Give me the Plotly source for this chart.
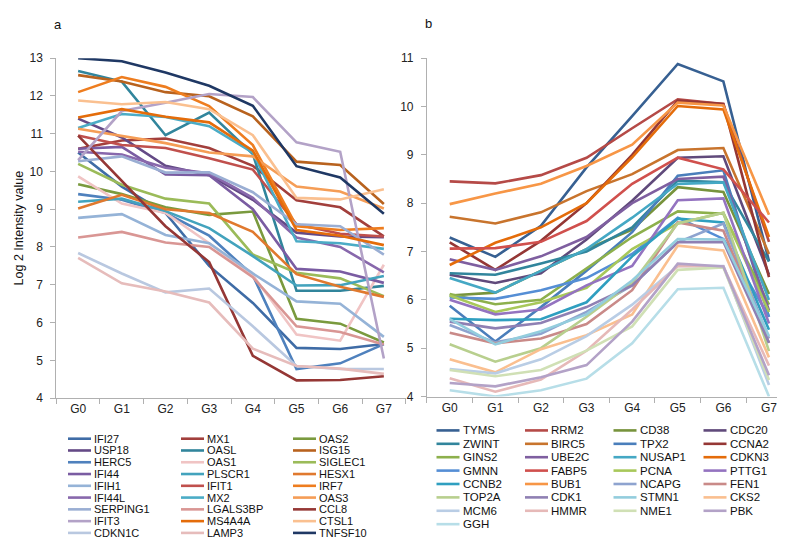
import plotly.graph_objects as go

W, H = 785, 539
groups = ["G0", "G1", "G2", "G3", "G4", "G5", "G6", "G7"]

# ---------------- Panel a data ----------------
a_names = ["IFI27", "MX1", "OAS2", "USP18", "OASL", "ISG15", "HERC5", "OAS1", "SIGLEC1",
           "IFI44", "PLSCR1", "HESX1", "IFIH1", "IFIT1", "IRF7", "IFI44L", "MX2", "OAS3",
           "SERPING1", "LGALS3BP", "CCL8", "IFIT3", "MS4A4A", "CTSL1", "CDKN1C", "LAMP3", "TNFSF10"]
a_colors = ["#3f6ca6", "#a23f3c", "#7a9a3e", "#644a86", "#31859c", "#b8621e", "#4f81bd", "#f0c4c4", "#9bbb59",
            "#7a5ca2", "#43a3bd", "#e0792e", "#95b3d7", "#c0504d", "#ee7d1f", "#8868ac", "#4bacc6", "#f59d56",
            "#9aaed3", "#d99694", "#953735", "#b3a2c7", "#e46c0a", "#fac090", "#b9c8e0", "#e6bcbb", "#1f3864"]
IFI27 = [10.50, 9.60, 8.90, 7.50, 6.52, 5.33, 5.30, 5.43]
MX1 = [10.60, 10.82, 10.87, 10.62, 10.15, 9.24, 9.05, 8.28]
OAS2 = [9.66, 9.40, 9.05, 8.85, 8.94, 6.10, 5.97, 5.47]
USP18 = [11.40, 10.90, 10.15, 9.90, 9.25, 8.38, 8.28, 8.26]
OASL = [12.66, 12.38, 10.96, 11.56, 10.46, 6.84, 6.84, 6.97]
ISG15 = [12.55, 12.38, 12.10, 11.99, 11.46, 10.26, 10.17, 9.14]
HERC5 = [9.40, 9.25, 8.90, 8.30, 7.25, 4.77, 4.92, 5.43]
OAS1 = [9.87, 9.15, 8.90, 8.10, 7.25, 5.68, 5.52, 7.53]
SIGLEC1 = [10.20, 9.65, 9.28, 9.15, 7.80, 7.32, 7.17, 6.70]
IFI44 = [10.60, 10.65, 9.92, 9.90, 9.00, 7.42, 7.35, 7.05]
PLSCR1 = [9.20, 9.28, 8.95, 8.50, 7.76, 6.98, 6.99, 7.23]
HESX1 = [9.02, 9.38, 9.00, 8.90, 8.40, 7.28, 6.95, 6.68]
IFIH1 = [8.77, 8.87, 8.32, 8.10, 7.30, 6.56, 6.50, 5.62]
IFIT1 = [10.95, 10.70, 10.62, 10.35, 10.05, 8.60, 8.35, 8.28]
IRF7 = [12.10, 12.50, 12.24, 11.73, 10.70, 8.55, 8.45, 8.50]
IFI44L = [10.52, 10.45, 10.10, 9.95, 9.30, 8.25, 8.00, 7.33]
MX2 = [11.15, 11.52, 11.44, 11.20, 10.50, 8.15, 8.10, 7.95]
OAS3 = [11.13, 10.95, 10.75, 10.50, 10.40, 9.60, 9.47, 9.02]
SERPING1 = [10.27, 10.40, 9.97, 9.98, 9.45, 8.60, 8.55, 7.80]
LGALS3BP = [8.25, 8.40, 8.12, 8.00, 7.20, 5.90, 5.75, 5.42]
CCL8 = [10.95, 9.75, 8.55, 7.60, 5.12, 4.47, 4.48, 4.58]
IFIT3 = [10.30, 11.60, 11.82, 12.05, 11.97, 10.77, 10.52, 5.05]
MS4A4A = [11.43, 11.65, 11.45, 11.30, 10.55, 8.45, 8.30, 8.05]
CTSL1 = [11.88, 11.78, 11.84, 11.65, 10.96, 9.30, 9.26, 9.53]
CDKN1C = [7.84, 7.30, 6.80, 6.90, 5.90, 4.85, 4.77, 4.77]
LAMP3 = [7.71, 7.04, 6.82, 6.53, 5.31, 4.85, 4.78, 4.64]
TNFSF10 = [13.00, 12.92, 12.62, 12.27, 11.74, 10.14, 9.84, 8.88]
a_values = [IFI27, MX1, OAS2, USP18, OASL, ISG15, HERC5, OAS1, SIGLEC1, IFI44, PLSCR1, HESX1,
            IFIH1, IFIT1, IRF7, IFI44L, MX2, OAS3, SERPING1, LGALS3BP, CCL8, IFIT3, MS4A4A,
            CTSL1, CDKN1C, LAMP3, TNFSF10]

# ---------------- Panel b data ----------------
b_names = ["TYMS", "RRM2", "CD38", "CDC20", "ZWINT", "BIRC5", "TPX2", "CCNA2", "GINS2", "UBE2C",
           "NUSAP1", "CDKN3", "GMNN", "FABP5", "PCNA", "PTTG1", "CCNB2", "BUB1", "NCAPG", "FEN1",
           "TOP2A", "CDK1", "STMN1", "CKS2", "MCM6", "HMMR", "NME1", "PBK", "GGH"]
b_colors = ["#376092", "#b54a47", "#77933c", "#604a7b", "#31859c", "#c8742d", "#4a7ebb", "#953735", "#8db04c", "#7f5fa0",
            "#45a8c4", "#e46c0a", "#558ed5", "#d0504d", "#a8c85a", "#9473c0", "#2f9fc0", "#f79646", "#8ea3cf", "#c98a88",
            "#b8cf8e", "#8f80b3", "#93cddd", "#fabf8f", "#b9cde5", "#e6b9b8", "#d0e0b5", "#b3a2c7", "#b7dee8"]
TYMS = [7.29, 6.89, 7.53, 8.74, 9.80, 10.88, 10.52, 6.80]
RRM2 = [8.45, 8.41, 8.58, 8.94, 9.55, 10.15, 10.05, 7.20]
CD38 = [6.09, 6.15, 6.60, 7.05, 7.45, 8.33, 8.23, 6.12]
CDC20 = [6.52, 6.35, 6.55, 7.25, 8.05, 8.94, 8.97, 6.52]
ZWINT = [6.55, 6.52, 6.75, 7.00, 7.50, 8.47, 8.43, 6.79]
BIRC5 = [7.72, 7.58, 7.81, 8.25, 8.60, 9.10, 9.14, 6.95]
TPX2 = [5.88, 5.14, 5.85, 6.60, 7.40, 8.57, 8.68, 5.65]
CCNA2 = [7.19, 6.62, 7.22, 8.00, 9.00, 10.12, 10.05, 6.47]
GINS2 = [6.12, 5.91, 6.00, 6.65, 7.30, 7.83, 7.78, 5.90]
UBE2C = [6.84, 6.62, 6.90, 7.30, 8.00, 8.50, 8.55, 5.78]
NUSAP1 = [6.45, 6.15, 6.60, 7.05, 7.70, 8.40, 8.43, 6.00]
CDKN3 = [6.72, 7.18, 7.50, 8.00, 8.95, 10.01, 9.94, 7.30]
GMNN = [6.05, 6.02, 6.20, 6.45, 6.95, 7.70, 7.26, 5.65]
FABP5 = [7.06, 7.07, 7.20, 7.63, 8.40, 8.94, 8.70, 7.60]
PCNA = [6.09, 5.75, 5.95, 6.25, 7.05, 7.58, 7.80, 5.75]
PTTG1 = [6.00, 5.70, 5.80, 6.30, 6.70, 8.06, 8.10, 5.51]
CCNB2 = [5.61, 5.58, 5.60, 5.95, 6.90, 7.68, 7.60, 5.38]
BUB1 = [7.98, 8.20, 8.40, 8.77, 9.21, 10.08, 10.02, 7.76]
NCAPG = [5.48, 5.12, 5.30, 5.75, 6.30, 7.19, 7.58, 5.20]
FEN1 = [5.32, 5.10, 5.20, 5.50, 6.20, 7.60, 7.43, 5.11]
TOP2A = [5.08, 4.72, 5.00, 5.65, 6.35, 7.58, 7.80, 4.94]
CDK1 = [5.55, 5.41, 5.52, 5.85, 6.30, 7.19, 7.20, 5.11]
STMN1 = [5.60, 5.08, 5.35, 5.70, 6.40, 7.26, 7.25, 5.25]
CKS2 = [4.77, 4.50, 4.98, 5.27, 5.70, 7.12, 7.02, 4.81]
MCM6 = [4.57, 4.48, 4.77, 5.25, 5.90, 6.70, 6.70, 4.24]
HMMR = [4.38, 4.10, 4.35, 4.95, 5.80, 6.70, 6.69, 4.64]
NME1 = [4.55, 4.42, 4.55, 4.95, 5.45, 6.62, 6.67, 4.34]
PBK = [4.28, 4.21, 4.40, 4.65, 5.55, 6.75, 6.69, 4.44]
GGH = [4.13, 4.00, 4.13, 4.37, 5.10, 6.22, 6.25, 4.00]
b_values = [TYMS, RRM2, CD38, CDC20, ZWINT, BIRC5, TPX2, CCNA2, GINS2, UBE2C, NUSAP1, CDKN3,
            GMNN, FABP5, PCNA, PTTG1, CCNB2, BUB1, NCAPG, FEN1, TOP2A, CDK1, STMN1, CKS2,
            MCM6, HMMR, NME1, PBK, GGH]

a_yticks = [4, 5, 6, 7, 8, 9, 10, 11, 12, 13]
b_yticks = [4, 5, 6, 7, 8, 9, 10, 11]

FONT = "Arial, Liberation Sans, sans-serif"
AXC = "#b0b0b0"

fig = go.Figure()
for n, c, v in zip(a_names, a_colors, a_values):
    fig.add_trace(go.Scatter(x=groups, y=v, name=n, mode="lines", line=dict(color=c, width=2.6),
                             xaxis="x", yaxis="y", showlegend=False))
for n, c, v in zip(b_names, b_colors, b_values):
    fig.add_trace(go.Scatter(x=groups, y=v, name=n, mode="lines", line=dict(color=c, width=2.6),
                             xaxis="x2", yaxis="y2", showlegend=False))

def px(x):
    return x / W

def py(y):
    return 1 - y / H

xcommon = dict(type="category", categoryorder="array", categoryarray=groups, showline=True,
               linecolor=AXC, linewidth=1, ticks="outside", tickson="boundaries", ticklen=5,
               tickcolor=AXC, showgrid=False, zeroline=False, range=[-0.5, 7.5],
               tickfont=dict(family=FONT, size=12, color="#222"), fixedrange=True)
ycommon = dict(showline=True, linecolor=AXC, linewidth=1, ticks="outside", ticklen=5, tickcolor=AXC,
               showgrid=False, zeroline=False, ticklabelstandoff=5,
               tickfont=dict(family=FONT, size=12, color="#222"), fixedrange=True)

# manual legends (Excel-style compact rows)
shapes, annots = [], []
def legend(names, colors, x0s, y0, dy, ncol, fs):
    for i, (n, c) in enumerate(zip(names, colors)):
        col, row = i % ncol, i // ncol
        xs = x0s[col]
        yy = y0 + row * dy
        shapes.append(dict(type="line", xref="paper", yref="paper", x0=px(xs), x1=px(xs + 23),
                           y0=py(yy), y1=py(yy), line=dict(color=c, width=2.6)))
        annots.append(dict(text=n, xref="paper", yref="paper", x=px(xs + 24), y=py(yy),
                           xanchor="left", yanchor="middle", showarrow=False,
                           font=dict(family=FONT, size=fs, color="#111")))

legend(a_names, a_colors, [60, 173, 285], 435, 12.09, 3, 11)
legend(b_names, b_colors, [428.5, 517, 605.5, 695.5], 426.5, 13.75, 4, 11.5)

annots.append(dict(text="a", xref="paper", yref="paper", x=px(50), y=py(10), xanchor="center",
                   yanchor="middle", showarrow=False, font=dict(family=FONT, size=13, color="#111")))
annots.append(dict(text="b", xref="paper", yref="paper", x=px(420), y=py(9), xanchor="center",
                   yanchor="middle", showarrow=False, font=dict(family=FONT, size=13, color="#111")))

fig.update_layout(
    width=W, height=H, margin=dict(l=0, r=0, t=0, b=0), autosize=False,
    paper_bgcolor="white", plot_bgcolor="white", showlegend=False,
    font=dict(family=FONT, size=11, color="#222"),
    xaxis=dict(xcommon, domain=[px(48.3), px(397.7)], anchor="y"),
    yaxis=dict(ycommon, domain=[py(393.3), py(44.3)], anchor="x", range=[4, 13], tickvals=a_yticks,
               title=dict(text="Log 2 Intensity value", font=dict(family=FONT, size=12.5, color="#111"),
                          standoff=3)),
    xaxis2=dict(xcommon, domain=[px(418.9), px(783.8)], anchor="y2"),
    yaxis2=dict(ycommon, domain=[py(391.7), py(44.3)], anchor="x2", range=[4, 11], tickvals=b_yticks),
    shapes=shapes, annotations=annots,
)

fig.write_html("out.html")
